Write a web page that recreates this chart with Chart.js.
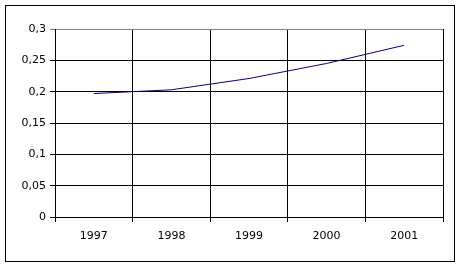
<!DOCTYPE html>
<html>
<head>
<meta charset="utf-8">
<script src="https://cdn.jsdelivr.net/npm/chart.js@4/dist/chart.umd.min.js"></script>
<style>
  html, body { margin: 0; padding: 0; background: #fff; }
  canvas { display: block; }
</style>
</head>
<body>
<canvas id="chart" width="460" height="268"></canvas>
<script>
const years = ['1997', '1998', '1999', '2000', '2001'];
const values = [0.197, 0.203, 0.221, 0.245, 0.274];
const y_min = 0;
const y_max = 0.3;
const y_step = 0.05;

// outer frame round the whole chart, like the spreadsheet chart area
const framePlugin = {
    id: 'frame',
    afterDraw(chart) {
        const ctx = chart.ctx;
        ctx.save();
        ctx.strokeStyle = '#000';
        ctx.lineWidth = 1;
        ctx.strokeRect(5.5, 5.5, 449, 256);
        ctx.restore();
    }
};

Chart.defaults.font.family = 'DejaVu Sans';
Chart.defaults.font.size = 11;
Chart.defaults.color = '#000';

new Chart('chart', {
    type: 'line',
    data: {
        labels: years,
        datasets: [{
            data: values,
            borderColor: '#000080',
            borderWidth: 1,
            pointRadius: 0,
            tension: 0,
            fill: false
        }]
    },
    options: {
        responsive: false,
        animation: false,
        layout: { padding: { top: 29, right: 17, left: 0, bottom: 0 } },
        plugins: {
            legend: { display: false },
            tooltip: { enabled: false }
        },
        scales: {
            x: {
                offset: true,
                grid: {
                    offset: true,
                    color: (c) => c.index == years.length ? '#808080' : '#000',
                    tickLength: 5,
                    lineWidth: 1
                },
                border: { color: '#000' },
                ticks: { padding: 8, maxRotation: 0 },
                afterFit: (scale) => { scale.height = 51; }
            },
            y: {
                min: y_min,
                max: y_max,
                grid: {
                    color: (c) => c.tick && Math.abs(c.tick.value - y_max) < 1e-9 ? '#808080' : '#000',
                    tickLength: 5,
                    lineWidth: 1
                },
                border: { color: '#000' },
                ticks: {
                    stepSize: y_step,
                    padding: 4,
                    callback: (v) => String(Math.round(v * 100) / 100).replace('.', ',')
                },
                afterFit: (scale) => { scale.width = 55; }
            }
        }
    },
    plugins: [framePlugin]
});
</script>
</body>
</html>
